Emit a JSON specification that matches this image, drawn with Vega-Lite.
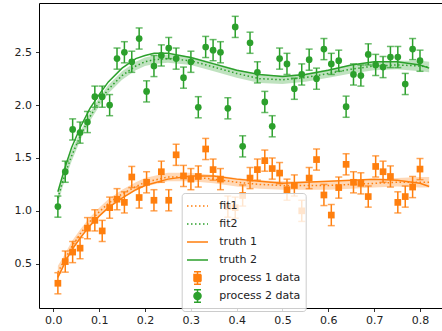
{
  "$schema": "https://vega.github.io/schema/vega-lite/v6.json",
  "width": 403,
  "height": 305,
  "autosize": {"type": "none"},
  "padding": {"left": 39, "top": 3, "right": 0, "bottom": 23},
  "config": {
    "font": "DejaVu Sans",
    "view": {"stroke": "#000", "strokeWidth": 1},
    "axis": {"domain": false, "grid": false, "tickColor": "#000", "tickSize": 3.5, "tickWidth": 0.8, "labelColor": "#222", "labelFontSize": 11, "labelFont": "DejaVu Sans"}
  },
  "datasets": {
    "pts": [
      {"x":0.01,"y":0.315,"err":0.1,"series":"process 1 data"},
      {"x":0.0261,"y":0.52,"err":0.1,"series":"process 1 data"},
      {"x":0.0422,"y":0.61,"err":0.1,"series":"process 1 data"},
      {"x":0.0584,"y":0.647,"err":0.1,"series":"process 1 data"},
      {"x":0.0745,"y":0.836,"err":0.1,"series":"process 1 data"},
      {"x":0.0906,"y":0.91,"err":0.1,"series":"process 1 data"},
      {"x":0.1067,"y":0.81,"err":0.1,"series":"process 1 data"},
      {"x":0.1229,"y":1.03,"err":0.1,"series":"process 1 data"},
      {"x":0.139,"y":1.11,"err":0.1,"series":"process 1 data"},
      {"x":0.1551,"y":1.08,"err":0.1,"series":"process 1 data"},
      {"x":0.1712,"y":1.32,"err":0.1,"series":"process 1 data"},
      {"x":0.1873,"y":1.126,"err":0.1,"series":"process 1 data"},
      {"x":0.2035,"y":1.27,"err":0.1,"series":"process 1 data"},
      {"x":0.2196,"y":1.10,"err":0.1,"series":"process 1 data"},
      {"x":0.2357,"y":1.37,"err":0.1,"series":"process 1 data"},
      {"x":0.2518,"y":1.10,"err":0.1,"series":"process 1 data"},
      {"x":0.268,"y":1.53,"err":0.1,"series":"process 1 data"},
      {"x":0.2841,"y":1.33,"err":0.1,"series":"process 1 data"},
      {"x":0.3002,"y":1.30,"err":0.1,"series":"process 1 data"},
      {"x":0.3163,"y":1.325,"err":0.1,"series":"process 1 data"},
      {"x":0.3324,"y":1.585,"err":0.1,"series":"process 1 data"},
      {"x":0.3486,"y":1.39,"err":0.1,"series":"process 1 data"},
      {"x":0.3647,"y":1.30,"err":0.1,"series":"process 1 data"},
      {"x":0.3808,"y":1.04,"err":0.1,"series":"process 1 data"},
      {"x":0.3969,"y":1.03,"err":0.1,"series":"process 1 data"},
      {"x":0.4131,"y":1.145,"err":0.1,"series":"process 1 data"},
      {"x":0.4292,"y":1.31,"err":0.1,"series":"process 1 data"},
      {"x":0.4453,"y":1.39,"err":0.1,"series":"process 1 data"},
      {"x":0.4614,"y":1.475,"err":0.1,"series":"process 1 data"},
      {"x":0.4776,"y":1.40,"err":0.1,"series":"process 1 data"},
      {"x":0.4937,"y":1.357,"err":0.1,"series":"process 1 data"},
      {"x":0.5098,"y":1.20,"err":0.1,"series":"process 1 data"},
      {"x":0.5259,"y":1.24,"err":0.1,"series":"process 1 data"},
      {"x":0.542,"y":1.00,"err":0.1,"series":"process 1 data"},
      {"x":0.5582,"y":1.31,"err":0.1,"series":"process 1 data"},
      {"x":0.5743,"y":1.485,"err":0.1,"series":"process 1 data"},
      {"x":0.5904,"y":1.15,"err":0.1,"series":"process 1 data"},
      {"x":0.6065,"y":0.96,"err":0.1,"series":"process 1 data"},
      {"x":0.6227,"y":1.22,"err":0.1,"series":"process 1 data"},
      {"x":0.6388,"y":1.44,"err":0.1,"series":"process 1 data"},
      {"x":0.6549,"y":1.27,"err":0.1,"series":"process 1 data"},
      {"x":0.671,"y":1.26,"err":0.1,"series":"process 1 data"},
      {"x":0.6871,"y":1.135,"err":0.1,"series":"process 1 data"},
      {"x":0.7033,"y":1.42,"err":0.1,"series":"process 1 data"},
      {"x":0.7194,"y":1.37,"err":0.1,"series":"process 1 data"},
      {"x":0.7355,"y":1.325,"err":0.1,"series":"process 1 data"},
      {"x":0.7516,"y":1.08,"err":0.1,"series":"process 1 data"},
      {"x":0.7678,"y":1.135,"err":0.1,"series":"process 1 data"},
      {"x":0.7839,"y":1.225,"err":0.1,"series":"process 1 data"},
      {"x":0.8,"y":1.395,"err":0.1,"series":"process 1 data"},
      {"x":0.01,"y":1.04,"err":0.1,"series":"process 2 data"},
      {"x":0.0261,"y":1.37,"err":0.1,"series":"process 2 data"},
      {"x":0.0422,"y":1.77,"err":0.1,"series":"process 2 data"},
      {"x":0.0584,"y":1.74,"err":0.1,"series":"process 2 data"},
      {"x":0.0745,"y":1.84,"err":0.1,"series":"process 2 data"},
      {"x":0.0906,"y":2.08,"err":0.1,"series":"process 2 data"},
      {"x":0.1067,"y":2.08,"err":0.1,"series":"process 2 data"},
      {"x":0.1229,"y":2.00,"err":0.1,"series":"process 2 data"},
      {"x":0.139,"y":2.44,"err":0.1,"series":"process 2 data"},
      {"x":0.1551,"y":2.50,"err":0.1,"series":"process 2 data"},
      {"x":0.1712,"y":2.41,"err":0.1,"series":"process 2 data"},
      {"x":0.1873,"y":2.63,"err":0.1,"series":"process 2 data"},
      {"x":0.2035,"y":2.13,"err":0.1,"series":"process 2 data"},
      {"x":0.2196,"y":2.37,"err":0.1,"series":"process 2 data"},
      {"x":0.2357,"y":2.47,"err":0.1,"series":"process 2 data"},
      {"x":0.2518,"y":2.54,"err":0.1,"series":"process 2 data"},
      {"x":0.268,"y":2.44,"err":0.1,"series":"process 2 data"},
      {"x":0.2841,"y":2.26,"err":0.1,"series":"process 2 data"},
      {"x":0.3002,"y":2.41,"err":0.1,"series":"process 2 data"},
      {"x":0.3163,"y":1.98,"err":0.1,"series":"process 2 data"},
      {"x":0.3324,"y":2.55,"err":0.1,"series":"process 2 data"},
      {"x":0.3486,"y":2.52,"err":0.1,"series":"process 2 data"},
      {"x":0.3647,"y":2.50,"err":0.1,"series":"process 2 data"},
      {"x":0.3808,"y":1.97,"err":0.1,"series":"process 2 data"},
      {"x":0.3969,"y":2.74,"err":0.1,"series":"process 2 data"},
      {"x":0.4131,"y":1.61,"err":0.1,"series":"process 2 data"},
      {"x":0.4292,"y":2.59,"err":0.1,"series":"process 2 data"},
      {"x":0.4453,"y":2.31,"err":0.1,"series":"process 2 data"},
      {"x":0.4614,"y":2.03,"err":0.1,"series":"process 2 data"},
      {"x":0.4776,"y":1.80,"err":0.1,"series":"process 2 data"},
      {"x":0.4937,"y":2.44,"err":0.1,"series":"process 2 data"},
      {"x":0.5098,"y":2.39,"err":0.1,"series":"process 2 data"},
      {"x":0.5259,"y":2.155,"err":0.1,"series":"process 2 data"},
      {"x":0.542,"y":2.29,"err":0.1,"series":"process 2 data"},
      {"x":0.5582,"y":2.43,"err":0.1,"series":"process 2 data"},
      {"x":0.5743,"y":2.25,"err":0.1,"series":"process 2 data"},
      {"x":0.5904,"y":2.53,"err":0.1,"series":"process 2 data"},
      {"x":0.6065,"y":2.39,"err":0.1,"series":"process 2 data"},
      {"x":0.6227,"y":2.42,"err":0.1,"series":"process 2 data"},
      {"x":0.6388,"y":1.985,"err":0.1,"series":"process 2 data"},
      {"x":0.6549,"y":2.29,"err":0.1,"series":"process 2 data"},
      {"x":0.671,"y":2.28,"err":0.1,"series":"process 2 data"},
      {"x":0.6871,"y":2.48,"err":0.1,"series":"process 2 data"},
      {"x":0.7033,"y":2.38,"err":0.1,"series":"process 2 data"},
      {"x":0.7194,"y":2.36,"err":0.1,"series":"process 2 data"},
      {"x":0.7355,"y":2.455,"err":0.1,"series":"process 2 data"},
      {"x":0.7516,"y":2.455,"err":0.1,"series":"process 2 data"},
      {"x":0.7678,"y":2.20,"err":0.1,"series":"process 2 data"},
      {"x":0.7839,"y":2.53,"err":0.1,"series":"process 2 data"},
      {"x":0.8,"y":2.42,"err":0.1,"series":"process 2 data"}
    ],
    "fits": [
      {"x":0.01,"y":0.42,"series":"fit1"},{"x":0.02,"y":0.50,"series":"fit1"},{"x":0.03,"y":0.58,"series":"fit1"},{"x":0.04,"y":0.66,"series":"fit1"},{"x":0.06,"y":0.79,"series":"fit1"},{"x":0.08,"y":0.90,"series":"fit1"},{"x":0.1,"y":0.99,"series":"fit1"},{"x":0.12,"y":1.07,"series":"fit1"},{"x":0.15,"y":1.16,"series":"fit1"},{"x":0.18,"y":1.23,"series":"fit1"},{"x":0.2,"y":1.27,"series":"fit1"},{"x":0.25,"y":1.32,"series":"fit1"},{"x":0.3,"y":1.32,"series":"fit1"},{"x":0.35,"y":1.30,"series":"fit1"},{"x":0.4,"y":1.27,"series":"fit1"},{"x":0.45,"y":1.25,"series":"fit1"},{"x":0.5,"y":1.24,"series":"fit1"},{"x":0.55,"y":1.24,"series":"fit1"},{"x":0.6,"y":1.24,"series":"fit1"},{"x":0.65,"y":1.25,"series":"fit1"},{"x":0.7,"y":1.26,"series":"fit1"},{"x":0.75,"y":1.27,"series":"fit1"},{"x":0.8,"y":1.27,"series":"fit1"},{"x":0.82,"y":1.27,"series":"fit1"},
      {"x":0.01,"y":1.12,"series":"fit2"},{"x":0.02,"y":1.27,"series":"fit2"},{"x":0.03,"y":1.40,"series":"fit2"},{"x":0.04,"y":1.52,"series":"fit2"},{"x":0.06,"y":1.72,"series":"fit2"},{"x":0.08,"y":1.89,"series":"fit2"},{"x":0.1,"y":2.03,"series":"fit2"},{"x":0.12,"y":2.15,"series":"fit2"},{"x":0.15,"y":2.28,"series":"fit2"},{"x":0.18,"y":2.37,"series":"fit2"},{"x":0.2,"y":2.41,"series":"fit2"},{"x":0.22,"y":2.43,"series":"fit2"},{"x":0.25,"y":2.44,"series":"fit2"},{"x":0.3,"y":2.42,"series":"fit2"},{"x":0.35,"y":2.36,"series":"fit2"},{"x":0.4,"y":2.30,"series":"fit2"},{"x":0.45,"y":2.25,"series":"fit2"},{"x":0.5,"y":2.24,"series":"fit2"},{"x":0.55,"y":2.26,"series":"fit2"},{"x":0.6,"y":2.30,"series":"fit2"},{"x":0.65,"y":2.34,"series":"fit2"},{"x":0.7,"y":2.37,"series":"fit2"},{"x":0.75,"y":2.38,"series":"fit2"},{"x":0.8,"y":2.37,"series":"fit2"},{"x":0.82,"y":2.36,"series":"fit2"}
    ],
    "truths": [
      {"x":0.01,"y":0.37,"series":"truth 1"},{"x":0.02,"y":0.46,"series":"truth 1"},{"x":0.03,"y":0.55,"series":"truth 1"},{"x":0.04,"y":0.63,"series":"truth 1"},{"x":0.06,"y":0.75,"series":"truth 1"},{"x":0.08,"y":0.86,"series":"truth 1"},{"x":0.1,"y":0.95,"series":"truth 1"},{"x":0.12,"y":1.03,"series":"truth 1"},{"x":0.15,"y":1.12,"series":"truth 1"},{"x":0.18,"y":1.20,"series":"truth 1"},{"x":0.2,"y":1.24,"series":"truth 1"},{"x":0.25,"y":1.30,"series":"truth 1"},{"x":0.3,"y":1.33,"series":"truth 1"},{"x":0.35,"y":1.33,"series":"truth 1"},{"x":0.4,"y":1.30,"series":"truth 1"},{"x":0.45,"y":1.28,"series":"truth 1"},{"x":0.5,"y":1.26,"series":"truth 1"},{"x":0.55,"y":1.27,"series":"truth 1"},{"x":0.6,"y":1.28,"series":"truth 1"},{"x":0.65,"y":1.29,"series":"truth 1"},{"x":0.7,"y":1.30,"series":"truth 1"},{"x":0.75,"y":1.29,"series":"truth 1"},{"x":0.8,"y":1.26,"series":"truth 1"},{"x":0.82,"y":1.23,"series":"truth 1"},
      {"x":0.01,"y":1.18,"series":"truth 2"},{"x":0.02,"y":1.33,"series":"truth 2"},{"x":0.03,"y":1.47,"series":"truth 2"},{"x":0.04,"y":1.60,"series":"truth 2"},{"x":0.06,"y":1.80,"series":"truth 2"},{"x":0.08,"y":1.97,"series":"truth 2"},{"x":0.1,"y":2.10,"series":"truth 2"},{"x":0.12,"y":2.22,"series":"truth 2"},{"x":0.15,"y":2.35,"series":"truth 2"},{"x":0.18,"y":2.44,"series":"truth 2"},{"x":0.2,"y":2.47,"series":"truth 2"},{"x":0.22,"y":2.49,"series":"truth 2"},{"x":0.25,"y":2.49,"series":"truth 2"},{"x":0.3,"y":2.45,"series":"truth 2"},{"x":0.35,"y":2.39,"series":"truth 2"},{"x":0.4,"y":2.33,"series":"truth 2"},{"x":0.45,"y":2.29,"series":"truth 2"},{"x":0.5,"y":2.27,"series":"truth 2"},{"x":0.55,"y":2.29,"series":"truth 2"},{"x":0.6,"y":2.33,"series":"truth 2"},{"x":0.65,"y":2.38,"series":"truth 2"},{"x":0.7,"y":2.41,"series":"truth 2"},{"x":0.75,"y":2.41,"series":"truth 2"},{"x":0.8,"y":2.38,"series":"truth 2"},{"x":0.82,"y":2.35,"series":"truth 2"}
    ],
    "bands": [
      {"x":0.01,"lo":0.36,"hi":0.48,"series":"fit1"},{"x":0.02,"lo":0.45,"hi":0.55,"series":"fit1"},{"x":0.03,"lo":0.53,"hi":0.63,"series":"fit1"},{"x":0.04,"lo":0.61,"hi":0.71,"series":"fit1"},{"x":0.06,"lo":0.75,"hi":0.83,"series":"fit1"},{"x":0.08,"lo":0.86,"hi":0.94,"series":"fit1"},{"x":0.1,"lo":0.95,"hi":1.03,"series":"fit1"},{"x":0.12,"lo":1.03,"hi":1.11,"series":"fit1"},{"x":0.15,"lo":1.12,"hi":1.20,"series":"fit1"},{"x":0.18,"lo":1.19,"hi":1.27,"series":"fit1"},{"x":0.2,"lo":1.23,"hi":1.31,"series":"fit1"},{"x":0.25,"lo":1.28,"hi":1.36,"series":"fit1"},{"x":0.3,"lo":1.28,"hi":1.36,"series":"fit1"},{"x":0.35,"lo":1.26,"hi":1.34,"series":"fit1"},{"x":0.4,"lo":1.23,"hi":1.31,"series":"fit1"},{"x":0.45,"lo":1.21,"hi":1.29,"series":"fit1"},{"x":0.5,"lo":1.20,"hi":1.28,"series":"fit1"},{"x":0.55,"lo":1.20,"hi":1.28,"series":"fit1"},{"x":0.6,"lo":1.20,"hi":1.28,"series":"fit1"},{"x":0.65,"lo":1.21,"hi":1.29,"series":"fit1"},{"x":0.7,"lo":1.22,"hi":1.30,"series":"fit1"},{"x":0.75,"lo":1.23,"hi":1.31,"series":"fit1"},{"x":0.8,"lo":1.22,"hi":1.32,"series":"fit1"},{"x":0.82,"lo":1.22,"hi":1.32,"series":"fit1"},
      {"x":0.01,"lo":1.06,"hi":1.18,"series":"fit2"},{"x":0.02,"lo":1.22,"hi":1.32,"series":"fit2"},{"x":0.03,"lo":1.35,"hi":1.45,"series":"fit2"},{"x":0.04,"lo":1.47,"hi":1.57,"series":"fit2"},{"x":0.06,"lo":1.68,"hi":1.76,"series":"fit2"},{"x":0.08,"lo":1.85,"hi":1.93,"series":"fit2"},{"x":0.1,"lo":1.99,"hi":2.07,"series":"fit2"},{"x":0.12,"lo":2.11,"hi":2.19,"series":"fit2"},{"x":0.15,"lo":2.24,"hi":2.32,"series":"fit2"},{"x":0.18,"lo":2.33,"hi":2.41,"series":"fit2"},{"x":0.2,"lo":2.37,"hi":2.45,"series":"fit2"},{"x":0.22,"lo":2.39,"hi":2.47,"series":"fit2"},{"x":0.25,"lo":2.40,"hi":2.48,"series":"fit2"},{"x":0.3,"lo":2.38,"hi":2.46,"series":"fit2"},{"x":0.35,"lo":2.32,"hi":2.40,"series":"fit2"},{"x":0.4,"lo":2.26,"hi":2.34,"series":"fit2"},{"x":0.45,"lo":2.21,"hi":2.29,"series":"fit2"},{"x":0.5,"lo":2.20,"hi":2.28,"series":"fit2"},{"x":0.55,"lo":2.22,"hi":2.30,"series":"fit2"},{"x":0.6,"lo":2.26,"hi":2.34,"series":"fit2"},{"x":0.65,"lo":2.30,"hi":2.38,"series":"fit2"},{"x":0.7,"lo":2.33,"hi":2.41,"series":"fit2"},{"x":0.75,"lo":2.34,"hi":2.42,"series":"fit2"},{"x":0.8,"lo":2.32,"hi":2.42,"series":"fit2"},{"x":0.82,"lo":2.31,"hi":2.41,"series":"fit2"}
    ]
  },
  "encoding": {
    "x": {"field": "x", "type": "quantitative", "title": null, "scale": {"domain": [-0.0312, 0.848], "nice": false, "zero": false}, "axis": {"title": null, "values": [0,0.1,0.2,0.3,0.4,0.5,0.6,0.7,0.8], "format": ".1f", "labelPadding": 2.5}},
    "color": {
      "field": "series", "type": "nominal",
      "scale": {"domain": ["fit1","fit2","truth 1","truth 2","process 1 data","process 2 data"], "range": ["#ff7f0e","#2ca02c","#ff7f0e","#2ca02c","#ff7f0e","#2ca02c"]},
      "legend": {
        "title": null, "orient": "none", "legendX": 142.7, "legendY": 190,
        "fillColor": "rgba(255,255,255,0.8)", "strokeColor": "#cccccc", "cornerRadius": 3, "padding": 5,
        "symbolSize": 196, "symbolOffset": 2.8, "labelOffset": 13.8, "rowPadding": -3.2,
        "labelFontSize": 11, "labelFont": "DejaVu Sans", "labelColor": "#222", "symbolStrokeWidth": 1.5,
        "encode": {"symbols": {"update": {
          "shape": [
            {"test": "datum.value === 'process 1 data'", "value": "M-0.5,-0.5H0.5V0.5H-0.5Z M0,-0.88V0.88 M-0.5,-0.88H0.5 M-0.5,0.88H0.5"},
            {"test": "datum.value === 'process 2 data'", "value": "M0.5,0A0.5,0.5 0 1,1 -0.5,0A0.5,0.5 0 1,1 0.5,0Z M0,-0.88V0.88 M-0.5,-0.88H0.5 M-0.5,0.88H0.5"},
            {"value": "M0,-0.88 M0,0.88 M-1.5,0H1.5"}
          ],
          "strokeDash": [
            {"test": "indexof(datum.value, 'fit') === 0", "value": [1.5, 2.5]},
            {"value": [1, 0]}
          ],
          "fill": [
            {"test": "indexof(datum.value, 'process') === 0", "scale": "color", "field": "value"},
            {"value": "transparent"}
          ],
          "stroke": {"scale": "color", "field": "value"},
          "strokeWidth": {"value": 1.5},
          "opacity": {"value": 1}
        }}}
      }
    }
  },
  "layer": [
    {
      "data": {"name": "bands"},
      "mark": {"type": "area", "opacity": 0.3},
      "encoding": {
        "y": {"field": "lo", "type": "quantitative", "title": null, "scale": {"domain": [0.081, 2.966], "nice": false, "zero": false}, "axis": {"title": null, "values": [0.5,1.0,1.5,2.0,2.5], "format": ".1f", "labelPadding": 4}},
        "y2": {"field": "hi"}
      }
    },
    {
      "data": {"name": "fits"},
      "mark": {"type": "line", "strokeWidth": 1.5, "strokeDash": [1.5, 2.5]},
      "encoding": {"y": {"field": "y", "type": "quantitative", "title": null}}
    },
    {
      "data": {"name": "truths"},
      "mark": {"type": "line", "strokeWidth": 1.5},
      "encoding": {"y": {"field": "y", "type": "quantitative", "title": null}}
    },
    {
      "data": {"name": "pts"},
      "mark": {"type": "errorbar", "ticks": {"size": 7, "thickness": 1.5}, "rule": {"strokeWidth": 1.5}},
      "encoding": {"y": {"field": "y", "type": "quantitative", "title": null}, "yError": {"field": "err"}}
    },
    {
      "data": {"name": "pts"},
      "mark": {"type": "point", "filled": true, "opacity": 1},
      "encoding": {
        "y": {"field": "y", "type": "quantitative", "title": null},
        "shape": {"field": "series", "type": "nominal", "scale": {"domain": ["process 1 data","process 2 data"], "range": ["square","circle"]}, "legend": null},
        "size": {"value": 45}
      }
    }
  ]
}
